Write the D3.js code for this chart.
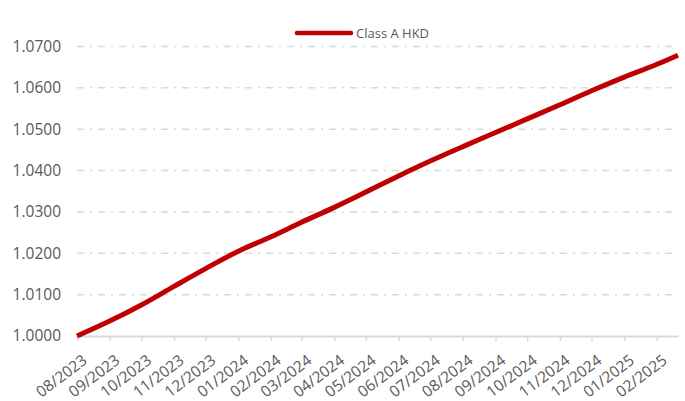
<!DOCTYPE html>
<html>
<head>
<meta charset="utf-8">
<script src="https://cdn.jsdelivr.net/npm/d3@7"></script>
<style>
  body { margin: 0; background: #fff; }
  svg { display: block; }
</style>
</head>
<body>
<svg></svg>
<script>
// month-start readings of the NAV line, plus the last point
const dates = [
  "2023-08-01","2023-09-01","2023-10-01","2023-11-01","2023-12-01",
  "2024-01-01","2024-02-01","2024-03-01","2024-04-01","2024-05-01",
  "2024-06-01","2024-07-01","2024-08-01","2024-09-01","2024-10-01",
  "2024-11-01","2024-12-01","2025-01-01","2025-02-01","2025-02-21"
];
const navValues = [
  1.0000, 1.0036, 1.0075, 1.0120, 1.0163,
  1.0205, 1.0240, 1.0275, 1.0311, 1.0348,
  1.0387, 1.0423, 1.0458, 1.0492, 1.0525,
  1.0559, 1.0593, 1.0626, 1.0657, 1.0679
];
const yTicks = [1.00, 1.01, 1.02, 1.03, 1.04, 1.05, 1.06, 1.07];
const seriesName = "Class A HKD";

const parse = d3.timeParse("%Y-%m-%d");
const data = dates.map((d, i) => ({ date: parse(d), value: navValues[i] }));

function draw() {
  const svgWidth = 685, svgHeight = 401;
  const svg = d3.select("svg")
    .attr("width", svgWidth)
    .attr("height", svgHeight);

  const left = 77, right = 678, top = 46.5, bottom = 336;
  const font = "'Open Sans', sans-serif";
  const textCol = "#595959";

  const xScale = d3.scaleTime()
    .domain(d3.extent(data, d => d.date))
    .range([left, right]);
  const yScale = d3.scaleLinear()
    .domain([1.0, 1.07])
    .range([bottom, top]);

  // gridlines (dash-dot)
  svg.append("g").selectAll("line")
    .data(yTicks.slice(1))
    .enter().append("line")
      .attr("x1", left).attr("x2", right)
      .attr("y1", d => yScale(d)).attr("y2", d => yScale(d))
      .attr("stroke", "#d9d9d9")
      .attr("stroke-width", 1.5)
      .attr("stroke-dasharray", "7,6,2,6");

  // y axis labels
  const yAxis = d3.axisLeft(yScale)
    .tickValues(yTicks)
    .tickFormat(d3.format(".4f"))
    .tickSize(0)
    .tickPadding(16);
  const yAxisG = svg.append("g")
    .attr("transform", `translate(${left},0)`)
    .call(yAxis);
  yAxisG.select(".domain").remove();
  yAxisG.selectAll(".tick text")
    .attr("fill", textCol)
    .attr("font-family", font)
    .attr("font-size", 15.5);

  // x axis
  const monthTicks = d3.timeMonth.range(parse("2023-08-01"), parse("2025-02-02"));
  const xAxis = d3.axisBottom(xScale)
    .tickValues(monthTicks)
    .tickFormat(d3.timeFormat("%m/%Y"))
    .tickSizeInner(5)
    .tickSizeOuter(0)
    .tickPadding(4);
  const xAxisG = svg.append("g")
    .attr("transform", `translate(0,${bottom})`)
    .call(xAxis);
  xAxisG.select(".domain")
    .attr("stroke", "#d9d9d9")
    .attr("stroke-width", 2);
  xAxisG.selectAll(".tick line")
    .attr("stroke", "#d9d9d9")
    .attr("stroke-width", 1.5);
  xAxisG.selectAll(".tick text")
    .attr("fill", textCol)
    .attr("font-family", font)
    .attr("font-size", 15.5)
    .attr("text-anchor", "end")
    .attr("dy", "0.35em")
    .attr("transform", "translate(2,15) rotate(-37)");

  // line
  const lineGenerator = d3.line()
    .x(d => xScale(d.date))
    .y(d => yScale(d.value))
    .curve(d3.curveMonotoneX);
  svg.append("path")
    .attr("d", lineGenerator(data))
    .attr("fill", "none")
    .attr("stroke", "#c00000")
    .attr("stroke-width", 5)
    .attr("stroke-linejoin", "round");

  // legend
  const legend = svg.append("g").attr("transform", "translate(297,33)");
  legend.append("line")
    .attr("x1", 0).attr("x2", 54)
    .attr("stroke", "#c00000")
    .attr("stroke-width", 4.5)
    .attr("stroke-linecap", "round");
  legend.append("text")
    .attr("x", 59).attr("y", 0)
    .attr("dy", "0.35em")
    .attr("fill", textCol)
    .attr("font-family", font)
    .attr("font-size", 13)
    .text(seriesName);
}

draw();
</script>
</body>
</html>
